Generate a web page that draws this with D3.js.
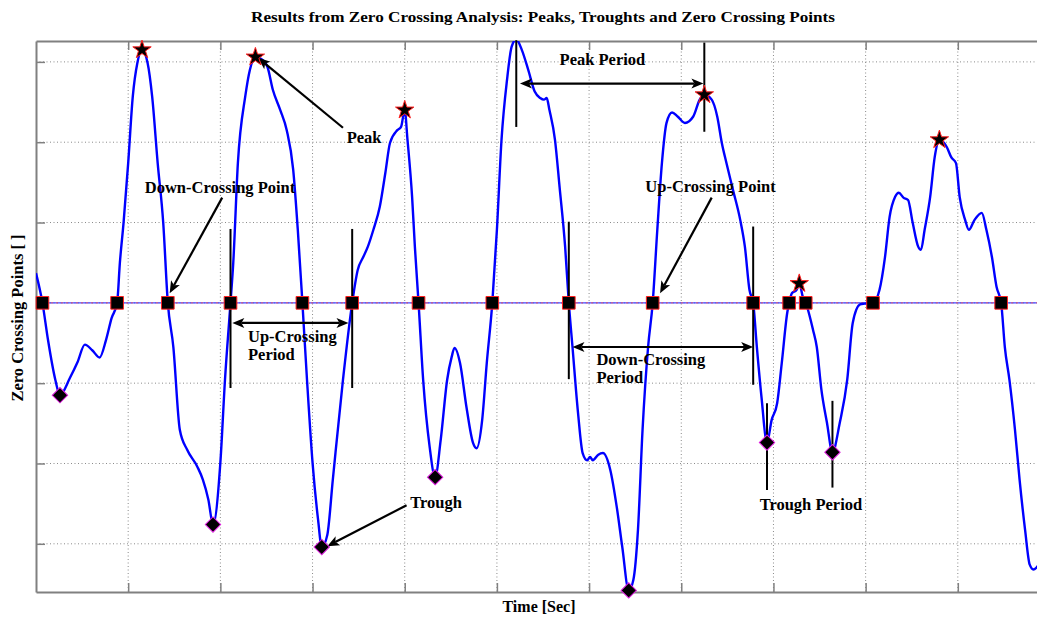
<!DOCTYPE html>
<html>
<head>
<meta charset="utf-8">
<script src="https://cdn.jsdelivr.net/npm/d3@7"></script>
<style>
  html, body { margin: 0; padding: 0; background: #fff; }
  svg { display: block; }
  text { font-family: "Liberation Serif", "Times New Roman", serif; font-weight: bold; fill: #000; }
</style>
</head>
<body>
<svg id="chart" width="1037" height="619"></svg>
<script>
// ---- recorded surface elevation (time in s, elevation in m) ----
const sampleTime = [0, 0.07, 0.13, 0.21, 0.26, 0.37, 0.45, 0.53, 0.61, 0.69, 0.76, 0.82, 0.88, 0.91, 0.95, 1.00, 1.05, 1.10, 1.15, 1.21, 1.26, 1.32, 1.38, 1.43, 1.49, 1.56, 1.64, 1.75, 1.81, 1.87, 1.92, 2.00, 2.05, 2.11, 2.14, 2.19, 2.27, 2.32, 2.38, 2.44, 2.51, 2.57, 2.65, 2.72, 2.79, 2.84, 2.89, 2.94, 3.00, 3.06, 3.10, 3.16, 3.22, 3.33, 3.43, 3.49, 3.55, 3.60, 3.66, 3.73, 3.79, 3.84, 3.92, 3.96, 4.00, 4.03, 4.08, 4.11, 4.15, 4.20, 4.27, 4.33, 4.39, 4.46, 4.51, 4.54, 4.60, 4.67, 4.74, 4.78, 4.84, 4.89, 4.95, 5.00, 5.05, 5.11, 5.16, 5.21, 5.27, 5.34, 5.41, 5.47, 5.51, 5.54, 5.57, 5.63, 5.68, 5.74, 5.78, 5.82, 5.88, 5.93, 5.98, 6.01, 6.04, 6.10, 6.15, 6.23, 6.30, 6.36, 6.43, 6.48, 6.53, 6.58, 6.64, 6.69, 6.74, 6.79, 6.84, 6.90, 6.96, 7.04, 7.13, 7.20, 7.25, 7.33, 7.39, 7.44, 7.49, 7.56, 7.64, 7.69, 7.74, 7.78, 7.82, 7.87, 7.93, 7.98, 8.04, 8.09, 8.15, 8.17, 8.20, 8.25, 8.28, 8.32, 8.35, 8.43, 8.47, 8.52, 8.58, 8.64, 8.72, 8.80, 8.86, 8.94, 8.99, 9.08, 9.15, 9.21, 9.26, 9.32, 9.36, 9.41, 9.46, 9.51, 9.57, 9.60, 9.64, 9.70, 9.75, 9.80, 9.88, 9.93, 9.98, 10.02, 10.08, 10.12, 10.18, 10.26, 10.31, 10.37, 10.42, 10.47, 10.51, 10.56, 10.62, 10.67, 10.73, 10.78, 10.82, 10.89];
const elevation = [0.37, 0, -0.46, -0.96, -1.15, -0.93, -0.74, -0.52, -0.59, -0.68, -0.46, -0.19, 0, 0.50, 1.00, 1.74, 2.57, 2.99, 3.15, 2.99, 2.57, 1.74, 1.00, 0, -0.55, -1.58, -1.83, -2.04, -2.20, -2.45, -2.76, -1.99, -0.96, 0, 0.50, 1.74, 2.57, 2.90, 3.06, 3.04, 2.94, 2.65, 2.40, 2.15, 1.66, 0.91, 0, -0.96, -1.99, -2.70, -3.04, -2.89, -2.20, -0.96, 0, 0.41, 0.57, 0.70, 0.91, 1.20, 1.62, 1.99, 2.15, 2.19, 2.40, 2.03, 1.32, 0.70, 0, -0.96, -1.79, -2.17, -1.71, -0.96, -0.67, -0.56, -0.75, -1.30, -1.74, -1.81, -1.46, -0.75, 0, 0.91, 2.03, 2.78, 3.19, 3.28, 3.15, 2.90, 2.63, 2.55, 2.53, 2.55, 2.40, 2.03, 1.44, 0.70, 0, -0.55, -1.37, -1.87, -1.96, -1.92, -1.96, -1.89, -1.87, -2.08, -2.54, -3.04, -3.58, -3.45, -2.83, -1.58, -0.55, 0, 0.91, 1.74, 2.24, 2.37, 2.32, 2.24, 2.32, 2.53, 2.59, 2.53, 2.32, 1.99, 1.74, 1.41, 1.03, 0.70, 0.16, 0, -0.55, -1.17, -1.74, -1.46, -1.25, -0.75, -0.12, 0, 0.12, 0.16, 0.24, 0.07, 0, -0.34, -0.55, -1.08, -1.49, -1.86, -1.49, -0.96, -0.25, -0.02, -0.01, 0, 0.16, 0.57, 1.07, 1.32, 1.37, 1.31, 1.28, 1.00, 0.70, 0.66, 0.91, 1.32, 1.82, 2.03, 1.94, 1.81, 1.74, 1.32, 1.03, 0.91, 1.03, 1.12, 0.91, 0.57, 0.20, 0, -0.55, -0.96, -1.58, -2.20, -2.83, -3.26, -3.32, -3.24];

// ---- detected events ----
const crossingTimes = [0.07, 0.88, 1.43, 2.11, 2.89, 3.43, 4.15, 4.95, 5.78, 6.69, 7.78, 8.17, 8.35, 9.08, 10.47];
const peakTimes     = [1.15, 2.38, 4.00, 7.25, 8.28, 9.80];
const peakValues    = [3.15, 3.06, 2.40, 2.59, 0.24, 2.03];
const troughTimes   = [0.26, 1.92, 3.10, 4.33, 6.43, 7.93, 8.64];
const troughValues  = [-1.15, -2.76, -3.04, -2.17, -3.58, -1.74, -1.86];

// ---- axis ticks (no numeric labels shown) ----
const xTicks = [1, 2, 3, 4, 5, 6, 7, 8, 9, 10];
const yTicks = [-3, -2, -1, 0, 1, 2, 3];

const titleText  = "Results from Zero Crossing Analysis: Peaks, Troughts and Zero Crossing Points";
const xLabelText = "Time [Sec]";
const yLabelText = "Zero Crossing Points [ ]";

// ---- layout ----
const plot = { left: 36, top: 41, bottom: 592, right: 1050 };
const svg = d3.select("#chart");

const x = d3.scaleLinear().domain([0, 11]).range([plot.left, plot.right]);
const y = d3.scaleLinear().domain([-3.6, 3.26]).range([plot.bottom, plot.top]);

svg.append("defs").append("clipPath").attr("id", "plotClip")
  .append("rect")
  .attr("x", plot.left).attr("y", plot.top)
  .attr("width", plot.right - plot.left).attr("height", plot.bottom - plot.top);

// dotted grid
const grid = svg.append("g")
  .attr("stroke", "#8a8a8a").attr("stroke-width", 1).attr("stroke-dasharray", "1,2.5");
grid.selectAll("line.gx").data(xTicks).join("line").attr("class", "gx")
  .attr("x1", d => x(d)).attr("x2", d => x(d))
  .attr("y1", plot.top).attr("y2", plot.bottom);
grid.selectAll("line.gy").data(yTicks).join("line").attr("class", "gy")
  .attr("x1", plot.left).attr("x2", plot.right)
  .attr("y1", d => y(d)).attr("y2", d => y(d));

// frame with inward ticks
function styleAxis(g) {
  g.selectAll("path.domain").attr("stroke", "#808080").attr("stroke-width", 2);
  g.selectAll(".tick line").attr("stroke", "#808080").attr("stroke-width", 1.5);
}
svg.append("g").attr("transform", `translate(0,${plot.bottom})`)
  .call(d3.axisBottom(x).tickValues(xTicks).tickSize(-9).tickSizeOuter(0).tickFormat(""))
  .call(styleAxis);
svg.append("g").attr("transform", `translate(0,${plot.top})`)
  .call(d3.axisTop(x).tickValues(xTicks).tickSize(-9).tickSizeOuter(0).tickFormat(""))
  .call(styleAxis);
svg.append("g").attr("transform", `translate(${plot.left},0)`)
  .call(d3.axisLeft(y).tickValues(yTicks).tickSize(-9).tickSizeOuter(0).tickFormat(""))
  .call(styleAxis);

// zero reference line
const zeroLine = svg.append("g");
zeroLine.append("line")
  .attr("x1", plot.left).attr("x2", plot.right).attr("y1", y(0)).attr("y2", y(0))
  .attr("stroke", "#4646ff").attr("stroke-width", 1.2);
zeroLine.append("line")
  .attr("x1", plot.left).attr("x2", plot.right).attr("y1", y(0)).attr("y2", y(0))
  .attr("stroke", "#ff5050").attr("stroke-width", 1).attr("stroke-dasharray", "2,3").attr("opacity", 0.8);

// elevation record
const record = sampleTime.map((t, i) => [t, elevation[i]]);
svg.append("path")
  .datum(record)
  .attr("clip-path", "url(#plotClip)")
  .attr("fill", "none").attr("stroke", "#0000ff").attr("stroke-width", 2.4)
  .attr("stroke-linejoin", "round")
  .attr("d", d3.line().x(d => x(d[0])).y(d => y(d[1])).curve(d3.curveMonotoneX));

// annotation helpers
const ink = svg.append("g");
function arrowHead(g, x1, y1, x2, y2) {
  const dx = x2 - x1, dy = y2 - y1, len = Math.hypot(dx, dy);
  const ux = dx / len, uy = dy / len, nx = -uy, ny = ux;
  const L = 12, hw = 5, notch = 3;
  g.append("path")
    .attr("d", `M${x2},${y2} L${x2 - ux * L + nx * hw},${y2 - uy * L + ny * hw} L${x2 - ux * (L - notch)},${y2 - uy * (L - notch)} L${x2 - ux * L - nx * hw},${y2 - uy * L - ny * hw} Z`)
    .attr("fill", "#000");
  return [x2 - ux * (L - notch), y2 - uy * (L - notch)];
}
function arrow(from, to, both) {
  const [x1, y1] = [x(from[0]), y(from[1])];
  const [x2, y2] = [x(to[0]), y(to[1])];
  const end = arrowHead(ink, x1, y1, x2, y2);
  const start = both ? arrowHead(ink, x2, y2, x1, y1) : [x1, y1];
  ink.append("line")
    .attr("x1", start[0]).attr("y1", start[1]).attr("x2", end[0]).attr("y2", end[1])
    .attr("stroke", "#000").attr("stroke-width", 2.2);
}
function bar(t, v1, v2) {
  ink.append("line")
    .attr("x1", x(t)).attr("x2", x(t)).attr("y1", y(v1)).attr("y2", y(v2))
    .attr("stroke", "#000").attr("stroke-width", 2);
}
function note(lines, at) {
  const t = ink.append("text").attr("x", x(at[0])).attr("y", y(at[1])).style("font-size", "16.5px");
  lines.forEach((s, i) => t.append("tspan").attr("x", x(at[0])).attr("dy", i ? 18 : 0).text(s));
}

// single-point call-outs
note(["Peak"], [3.37, 1.99]);
arrow([3.33, 2.18], [2.41, 3.05], false);
note(["Down-Crossing Point"], [1.18, 1.37]);
arrow([2.02, 1.31], [1.45, 0.12], false);
note(["Up-Crossing Point"], [6.61, 1.38]);
arrow([7.33, 1.31], [6.77, 0.12], false);
note(["Trough"], [4.06, -2.55]);
arrow([4.02, -2.52], [3.16, -3.03], false);

// period brackets
bar(crossingTimes[3], 0.92, -1.06);
bar(crossingTimes[5], 0.92, -1.06);
arrow([crossingTimes[3] + 0.02, -0.25], [crossingTimes[5] - 0.04, -0.25], true);
note(["Up-Crossing", "Period"], [2.30, -0.49]);

bar(crossingTimes[8], 1.01, -0.95);
bar(crossingTimes[10], 0.95, -1.02);
arrow([crossingTimes[8] + 0.04, -0.55], [crossingTimes[10], -0.55], true);
note(["Down-Crossing", "Period"], [6.08, -0.77]);

bar(5.21, 3.27, 2.19);
bar(peakTimes[3], 3.24, 2.13);
arrow([5.25, 2.73], [peakTimes[3] - 0.01, 2.73], true);
note(["Peak Period"], [5.68, 2.96]);

bar(troughTimes[5], -1.25, -2.33);
bar(troughTimes[6], -1.22, -2.30);
note(["Trough Period"], [7.85, -2.58]);

// event markers
const marks = svg.append("g");
marks.selectAll("path.cross").data(crossingTimes).join("path").attr("class", "cross")
  .attr("transform", d => `translate(${x(d)},${y(0)})`)
  .attr("d", d3.symbol(d3.symbolSquare, 160)())
  .attr("fill", "#000").attr("stroke", "#ff2020").attr("stroke-width", 1);
marks.selectAll("path.peak").data(peakTimes).join("path").attr("class", "peak")
  .attr("transform", (d, i) => `translate(${x(d)},${y(peakValues[i])})`)
  .attr("d", d3.symbol(d3.symbolStar, 105)())
  .attr("fill", "#000").attr("stroke", "#ff2020").attr("stroke-width", 1);
marks.selectAll("path.trough").data(troughTimes).join("path").attr("class", "trough")
  .attr("transform", (d, i) => `translate(${x(d)},${y(troughValues[i])}) rotate(45)`)
  .attr("d", d3.symbol(d3.symbolSquare, 118)())
  .attr("fill", "#000").attr("stroke", "#e020e0").attr("stroke-width", 1);

// titles
svg.append("text").attr("x", 543).attr("y", 22).attr("text-anchor", "middle")
  .style("font-size", "14px").attr("textLength", 584).attr("lengthAdjust", "spacingAndGlyphs")
  .text(titleText);
svg.append("text").attr("x", 539).attr("y", 612).attr("text-anchor", "middle")
  .style("font-size", "16px").text(xLabelText);
svg.append("text").attr("transform", "translate(23,318) rotate(-90)").attr("text-anchor", "middle")
  .style("font-size", "16.5px").text(yLabelText);
</script>
</body>
</html>
